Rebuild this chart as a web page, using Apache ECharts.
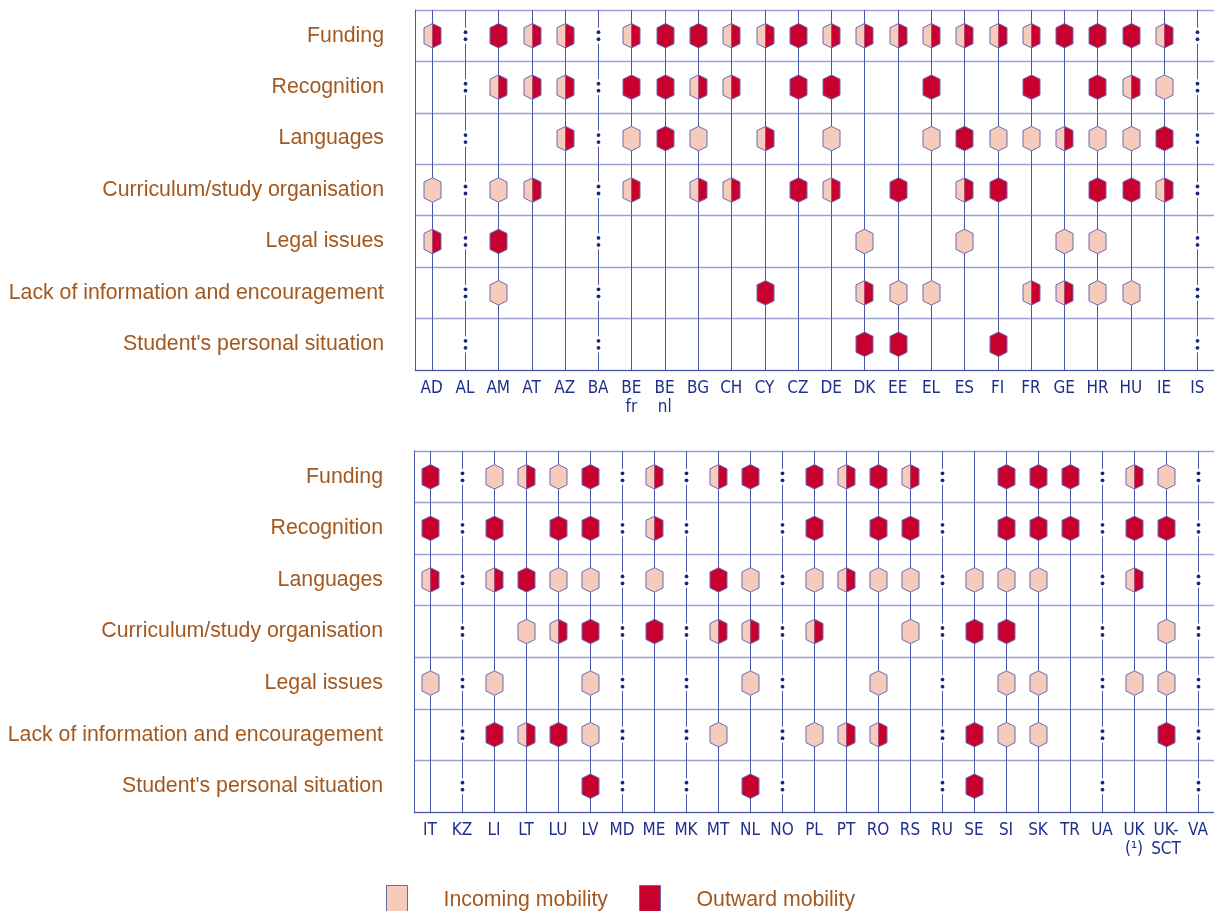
<!DOCTYPE html>
<html><head><meta charset="utf-8">
<script src="https://cdn.jsdelivr.net/npm/echarts@6/dist/echarts.min.js"></script>
<style>html,body{margin:0;padding:0;background:#fff}#c{width:1214px;height:911px}</style>
</head><body><div id="c"></div>
<script>
// Obstacles (rows)
const obstacles = ['Funding','Recognition','Languages','Curriculum/study organisation','Legal issues','Lack of information and encouragement',"Student's personal situation"];
// Countries (columns)
const countriesTop = ['AD','AL','AM','AT','AZ','BA','BE\nfr','BE\nnl','BG','CH','CY','CZ','DE','DK','EE','EL','ES','FI','FR','GE','HR','HU','IE','IS'];
const countriesBottom = ['IT','KZ','LI','LT','LU','LV','MD','ME','MK','MT','NL','NO','PL','PT','RO','RS','RU','SE','SI','SK','TR','UA','UK\n(\u00b9)','UK-\nSCT','VA'];
// Codes: I = incoming, O = outward, B = both, X = not available (:), - = none
const topFunding      = ['B','X','O','B','B','X','B','O','O','B','B','O','B','B','B','B','B','B','B','O','O','O','B','X'];
const topRecognition  = ['-','X','B','B','B','X','O','O','B','B','-','O','O','-','-','O','-','-','O','-','O','B','I','X'];
const topLanguages    = ['-','X','-','-','B','X','I','O','I','-','B','-','I','-','-','I','O','I','I','B','I','I','O','X'];
const topCurriculum   = ['I','X','I','B','-','X','B','-','B','B','-','O','B','-','O','-','B','O','-','-','O','O','B','X'];
const topLegal        = ['B','X','O','-','-','X','-','-','-','-','-','-','-','I','-','-','I','-','-','I','I','-','-','X'];
const topInformation  = ['-','X','I','-','-','X','-','-','-','-','O','-','-','B','I','I','-','-','B','B','I','I','-','X'];
const topPersonal     = ['-','X','-','-','-','X','-','-','-','-','-','-','-','O','O','-','-','O','-','-','-','-','-','X'];

const botFunding      = ['O','X','I','B','I','O','X','B','X','B','O','X','O','B','O','B','X','-','O','O','O','X','B','I','X'];
const botRecognition  = ['O','X','O','-','O','O','X','B','X','-','-','X','O','-','O','O','X','-','O','O','O','X','O','O','X'];
const botLanguages    = ['B','X','B','O','I','I','X','I','X','O','I','X','I','B','I','I','X','I','I','I','-','X','B','-','X'];
const botCurriculum   = ['-','X','-','I','B','O','X','O','X','B','B','X','B','-','-','I','X','O','O','-','-','X','-','I','X'];
const botLegal        = ['I','X','I','-','-','I','X','-','X','-','I','X','-','-','I','-','X','-','I','I','-','X','I','I','X'];
const botInformation  = ['-','X','O','B','O','I','X','-','X','I','-','X','I','B','B','-','X','O','I','I','-','X','-','O','X'];
const botPersonal     = ['-','X','-','-','-','O','X','-','X','-','O','X','-','-','-','-','X','O','-','-','-','X','-','-','X'];

const topRows = [topFunding, topRecognition, topLanguages, topCurriculum, topLegal, topInformation, topPersonal];
const botRows = [botFunding, botRecognition, botLanguages, botCurriculum, botLegal, botInformation, botPersonal];

const PINK = '#f6cbbb', RED = '#c8002e', OUTLINE = '#6a6ab4', LINE = '#4a55a8', DOT = '#1b2a80';
const BROWN = '#a3581f', NAVY = '#1f2f8c';

function cells(rows, test) {
  const out = [];
  rows.forEach((arr, r) => arr.forEach((code, c) => {
    const k = test(code);
    if (k) out.push([c, r, k]);
  }));
  return out;
}
const HW = 8.5, HH = 12.2, SH = 8;
function hexFull(x, y) { return [[x, y-HH],[x+HW, y-SH],[x+HW, y+SH],[x, y+HH],[x-HW, y+SH],[x-HW, y-SH]]; }
function hexLeft(x, y) { return [[x, y-HH],[x, y+HH],[x-HW, y+SH],[x-HW, y-SH]]; }
function hexRight(x, y) { return [[x, y-HH],[x+HW, y-SH],[x+HW, y+SH],[x, y+HH]]; }

function renderGrid(params, api) {
  const p = api.coord([api.value(0), api.value(1)]);
  const s = api.size([1, 1]);
  const x = Math.round(p[0]) + 0.5, y = p[1];
  const top = y - s[1]/2, bot = y + s[1]/2;
  const st = {stroke: LINE, lineWidth: 1};
  if (api.value(2) === 2) {
    return {type:'group', children:[
      {type:'line', shape:{x1:x, y1:top, x2:x, y2:y-8}, style:st},
      {type:'line', shape:{x1:x, y1:y+8, x2:x, y2:bot}, style:st},
      {type:'circle', shape:{cx:x, cy:y-3.5, r:1.9}, style:{fill:DOT}},
      {type:'circle', shape:{cx:x, cy:y+3.5, r:1.9}, style:{fill:DOT}}
    ]};
  }
  return {type:'line', shape:{x1:x, y1:top, x2:x, y2:bot}, style:st};
}
function renderIncoming(params, api) {
  const p = api.coord([api.value(0), api.value(1)]);
  const x = Math.round(p[0]) + 0.5, y = p[1];
  if (api.value(2) === 1) return {type:'polygon', shape:{points:hexFull(x,y)}, style:{fill:PINK, stroke:OUTLINE, lineWidth:1}};
  return {type:'polygon', shape:{points:hexLeft(x,y)}, style:{fill:PINK}};
}
function renderOutward(params, api) {
  const p = api.coord([api.value(0), api.value(1)]);
  const x = Math.round(p[0]) + 0.5, y = p[1];
  if (api.value(2) === 1) return {type:'polygon', shape:{points:hexFull(x,y)}, style:{fill:RED, stroke:OUTLINE, lineWidth:1}};
  return {type:'group', children:[
    {type:'polygon', shape:{points:hexRight(x,y)}, style:{fill:RED}},
    {type:'polygon', shape:{points:hexFull(x,y)}, style:{fill:'none', stroke:OUTLINE, lineWidth:1}}
  ]};
}

function panelSeries(rows, idx) {
  return [
    {type:'custom', xAxisIndex:idx, yAxisIndex:idx, z:1, silent:true, renderItem:renderGrid,
      data: cells(rows, c => c === 'X' ? 2 : 1)},
    {type:'custom', name:'Incoming mobility', xAxisIndex:idx, yAxisIndex:idx, z:2, renderItem:renderIncoming,
      itemStyle:{color:PINK}, data: cells(rows, c => c === 'I' ? 1 : (c === 'B' ? 2 : 0))},
    {type:'custom', name:'Outward mobility', xAxisIndex:idx, yAxisIndex:idx, z:3, renderItem:renderOutward,
      itemStyle:{color:RED}, data: cells(rows, c => c === 'O' ? 1 : (c === 'B' ? 2 : 0))}
  ];
}

function xAxisOf(data, idx) {
  return {type:'category', gridIndex:idx, data:data, boundaryGap:true,
    axisLine:{show:true, lineStyle:{color:LINE, width:1}},
    axisTick:{show:false}, splitLine:{show:false},
    axisLabel:{interval:0, color:NAVY, fontFamily:'Liberation Sans Narrow, DejaVu Sans Condensed, sans-serif', fontSize:17, lineHeight:19, margin:9}};
}
function yAxisOf(idx) {
  return {type:'category', gridIndex:idx, data:obstacles, inverse:true, boundaryGap:true,
    axisLine:{show:true, lineStyle:{color:LINE, width:1}},
    axisTick:{show:false},
    splitLine:{show:true, lineStyle:{color:'#9a9ed0', width:1.3}},
    axisLabel:{interval:0, color:BROWN, fontFamily:'Liberation Sans, Arial, sans-serif', fontSize:21.3, margin:31}};
}

const chart = echarts.init(document.getElementById('c'), null, {renderer:'canvas'});
chart.setOption({
  animation:false,
  backgroundColor:'#ffffff',
  grid:[
    {left:415, top:10, width:800, height:360},
    {left:414, top:451, width:800, height:361}
  ],
  xAxis:[xAxisOf(countriesTop, 0), xAxisOf(countriesBottom, 1)],
  yAxis:[yAxisOf(0), yAxisOf(1)],
  legend:{
    left:381, top:880, orient:'horizontal', selectedMode:false,
    itemWidth:21, itemHeight:30, itemGap:31, icon:'rect',
    textStyle:{color:BROWN, fontFamily:'Liberation Sans, Arial, sans-serif', fontSize:21.3, padding:[0,0,0,31]},
    data:[
      {name:'Incoming mobility', itemStyle:{color:PINK, borderColor:OUTLINE, borderWidth:1}},
      {name:'Outward mobility', itemStyle:{color:RED, borderColor:OUTLINE, borderWidth:1}}
    ]
  },
  series: panelSeries(topRows, 0).concat(panelSeries(botRows, 1))
});
</script>
</body></html>
